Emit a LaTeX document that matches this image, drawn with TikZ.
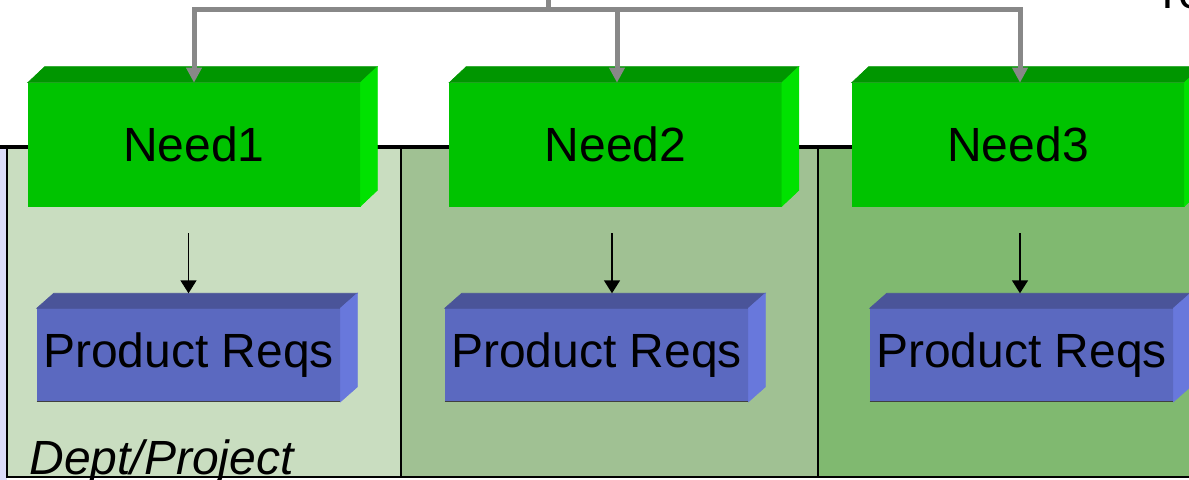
\documentclass[tikz,border=0pt]{standalone}
\usepackage{fontspec}
\setmainfont{Liberation Sans}
\usetikzlibrary{positioning,arrows.meta}

\definecolor{needfront}{HTML}{00C300}
\definecolor{needtop}{HTML}{009600}
\definecolor{needside}{HTML}{00E200}
\definecolor{prodfront}{HTML}{5B69C0}
\definecolor{prodtop}{HTML}{4A5499}
\definecolor{prodside}{HTML}{6878DC}
\definecolor{feedgray}{HTML}{888888}
\definecolor{panelA}{HTML}{C9DDC0}
\definecolor{panelB}{HTML}{A0C193}
\definecolor{panelC}{HTML}{80B970}
\definecolor{lavender}{HTML}{DCDCFA}

\begin{document}
\begin{tikzpicture}[x=0.5pt,y=-0.5pt,
  bigtext/.style={font=\fontsize{24pt}{28pt}\selectfont},
  needbox/.style={bigtext,fill=needfront,draw=needfront,line width=0.3pt,minimum width=166pt,minimum height=61.5pt,inner sep=0pt},
  prodbox/.style={bigtext,fill=prodfront,draw=prodfront,line width=0.3pt,minimum width=151.5pt,minimum height=46.5pt,inner sep=0pt},
  feed/.style={draw=feedgray,line width=2.5pt,-{Triangle[width=7.5pt,length=7.5pt]}},
  reqarrow/.style={draw=black,line width=0.75pt,-{Triangle[width=8pt,length=6.5pt]}}]
\useasboundingbox (0,0) rectangle (1189,480);

% panels
\fill[lavender] (0,147) rectangle (7,480);
\filldraw[fill=panelA,draw=black,line width=1pt] (7,147) rectangle (401,477);
\filldraw[fill=panelB,draw=black,line width=1pt] (401,147) rectangle (818,477);
\filldraw[fill=panelC,draw=black,line width=1pt] (818,147) rectangle (1200,477);
\draw[line width=1.75pt] (0,147) -- (1200,147);
\node[bigtext,font=\fontsize{24pt}{28pt}\selectfont\itshape,anchor=base west,inner sep=0pt](dept) at (29,474){Dept/Project};
\node[bigtext,anchor=base west,inner sep=0pt](cut) at (1162,9){re};

% needs
\node[needbox](need1) at (194,144.5){Need1};
\node[needbox](need2) at (615.5,144.5){Need2};
\node[needbox](need3) at (1018,144.5){Need3};

% product reqs
\node[prodbox, below=51pt of need1, xshift=-2.75pt](prod1){Product Reqs};
\node[prodbox, below=51pt of need2, xshift=-9.5pt](prod2){Product Reqs};
\node[prodbox, below=51pt of need3, xshift=1.75pt](prod3){Product Reqs};

% 3d faces
\foreach \n in {need1,need2,need3}{
  \filldraw[needtop,line width=0.3pt] (\n.north west) -- ++(17,-16) -- ([shift={(17,-16)}]\n.north east) -- (\n.north east) -- cycle;
  \filldraw[needside,line width=0.3pt] (\n.north east) -- ++(17,-16) -- ([shift={(17,-16)}]\n.south east) -- (\n.south east) -- cycle;
}
\foreach \n in {prod1,prod2,prod3}{
  \filldraw[prodtop,line width=0.3pt] (\n.north west) -- ++(17,-15) -- ([shift={(17,-15)}]\n.north east) -- (\n.north east) -- cycle;
  \filldraw[prodside,line width=0.3pt] (\n.north east) -- ++(17,-15) -- ([shift={(17,-15)}]\n.south east) -- (\n.south east) -- cycle;
  \draw[black!75,line width=0.5pt] (\n.south west) -- (\n.south east);
}

% feed from above
\coordinate (src) at (548,-5);
\coordinate (bus) at (548,10);
\draw[draw=feedgray,line width=2.5pt] (src) -- (bus);
\draw[feed] (bus) -| (need1.north);
\draw[feed] (bus) -| ([xshift=0.75pt]need2.north);
\draw[feed] (bus) -| ([xshift=1pt]need3.north);

% need to product reqs
\coordinate[above=7.5pt of prod1.north] (in1);
\coordinate[above=7.5pt of prod2.north, xshift=7.75pt] (in2);
\coordinate[above=7.5pt of prod3.north, xshift=-0.75pt] (in3);
\draw[reqarrow, shorten <=13.5pt] (need1.south -| in1) -- (in1);
\draw[reqarrow, shorten <=13.5pt] (need2.south -| in2) -- (in2);
\draw[reqarrow, shorten <=13.5pt] (need3.south -| in3) -- (in3);
\end{tikzpicture}
\end{document}
